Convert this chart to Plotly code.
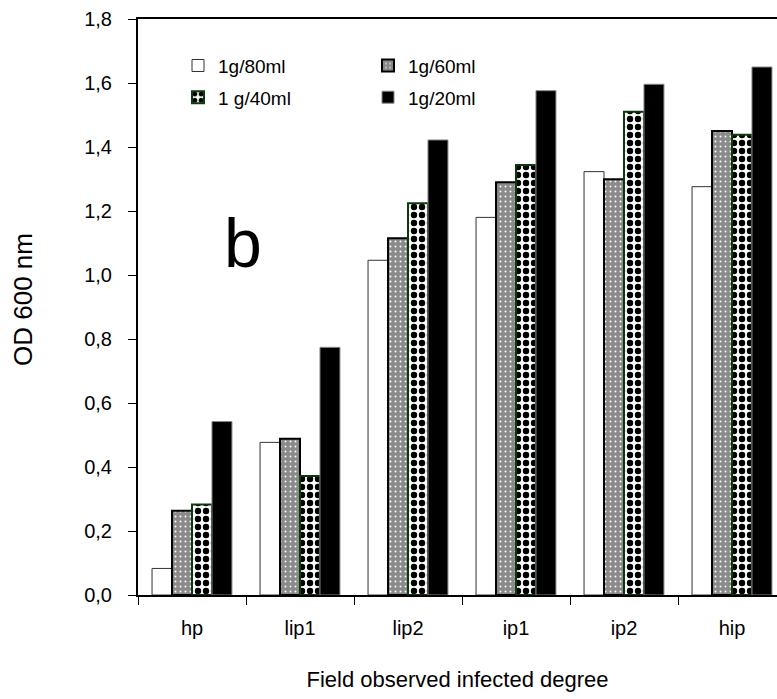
import plotly.graph_objects as go

# Infection-degree classes on the x axis
categories = ["hp", "lip1", "lip2", "ip1", "ip2", "hip"]

# OD 600 nm readings for each soil:water ratio
od_80ml = [0.083, 0.477, 1.046, 1.180, 1.323, 1.276]
od_60ml = [0.263, 0.488, 1.115, 1.290, 1.299, 1.450]
od_40ml = [0.283, 0.372, 1.224, 1.344, 1.510, 1.438]
od_20ml = [0.542, 0.774, 1.422, 1.576, 1.596, 1.650]

y_ticks = [0.0, 0.2, 0.4, 0.6, 0.8, 1.0, 1.2, 1.4, 1.6, 1.8]

FONT = "Arial, 'Liberation Sans', sans-serif"

fig = go.Figure()

fig.add_trace(go.Bar(
    x=categories, y=od_80ml, name="1g/80ml", legend="legend",
    legendgroup="a",
    marker=dict(color="white", line=dict(color="#333333", width=1)),
))
fig.add_trace(go.Bar(
    x=categories, y=od_60ml, name="1g/60ml", legend="legend2",
    legendgroup="b",
    marker=dict(
        color="#8f8f8f",
        line=dict(color="black", width=2),
        pattern=dict(shape=".", bgcolor="#8a8a8a", fgcolor="#ffffff",
                     size=5, solidity=0.12, fillmode="replace"),
    ),
))
fig.add_trace(go.Bar(
    x=categories, y=od_40ml, name="1 g/40ml", legend="legend",
    legendgroup="c",
    marker=dict(
        color="white",
        line=dict(color="#0b3a0b", width=2),
        pattern=dict(shape=".", bgcolor="white", fgcolor="black",
                     size=8, solidity=0.5, fillmode="replace"),
    ),
))
fig.add_trace(go.Bar(
    x=categories, y=od_20ml, name="1g/20ml", legend="legend2",
    legendgroup="d",
    marker=dict(color="black", line=dict(color="#888888", width=1)),
))

plot_left, plot_top, plot_bottom = 138, 19, 595
W, H = 777, 699
plot_w = W - plot_left
plot_h = plot_bottom - plot_top
cat_px = 108.0
x_range = [-0.5, -0.5 + plot_w / cat_px]
boundaries = [i - 0.5 for i in range(len(categories) + 1)]

legend_common = dict(
    xanchor="left", yanchor="top",
    bgcolor="rgba(0,0,0,0)",
    font=dict(family=FONT, size=19, color="black"),
    orientation="v", tracegroupgap=4, itemwidth=30,
)

fig.update_layout(
    width=W, height=H,
    margin=dict(l=plot_left, r=0, t=plot_top, b=H - plot_bottom),
    paper_bgcolor="white", plot_bgcolor="white",
    separators=", ",
    barmode="group", bargap=0.26, bargroupgap=0.0,
    font=dict(family=FONT, color="black"),
    legend=dict(x=(178 - plot_left) / plot_w, y=0.952, **legend_common),
    legend2=dict(x=(368 - plot_left) / plot_w, y=0.952, **legend_common),
    xaxis=dict(
        range=x_range,
        showline=True, linecolor="black", linewidth=2, mirror=True,
        ticks="outside", ticklen=8, tickwidth=1, tickcolor="black",
        tickson="boundaries",
        tickfont=dict(family=FONT, size=20),
        ticklabelstandoff=14,
        showgrid=False, zeroline=False,
        title=dict(text="Field observed infected degree",
                   font=dict(family=FONT, size=22), standoff=34),
    ),
    # inner half of the tick marks, so they cross the axis lines
    xaxis2=dict(
        overlaying="x", anchor="y", side="bottom",
        range=x_range, tickvals=boundaries,
        ticks="inside", ticklen=8, tickwidth=1, tickcolor="black",
        showticklabels=False, showline=False, showgrid=False, zeroline=False,
    ),
    yaxis=dict(
        range=[0, 1.8],
        tickvals=y_ticks, tickformat=".1f",
        showline=True, linecolor="black", linewidth=2,
        ticks="outside", ticklen=8, tickwidth=1, tickcolor="black",
        tickfont=dict(family=FONT, size=20),
        ticklabelstandoff=12,
        showgrid=False, zeroline=False,
    ),
    yaxis2=dict(
        overlaying="y", anchor="x", side="left",
        range=[0, 1.8], tickvals=y_ticks,
        ticks="inside", ticklen=8, tickwidth=1, tickcolor="black",
        showticklabels=False, showline=False, showgrid=False, zeroline=False,
    ),
    annotations=[
        dict(
            text="b", xref="paper", yref="paper",
            x=(222 - plot_left) / plot_w, y=(plot_bottom - 243) / plot_h,
            showarrow=False, font=dict(family=FONT, size=68, color="black"),
        ),
        dict(
            text="OD 600 nm", xref="paper", yref="paper", textangle=-90,
            x=(23 - plot_left) / plot_w, y=(plot_bottom - 300) / plot_h,
            xanchor="center", yanchor="middle",
            showarrow=False, font=dict(family=FONT, size=26, color="black"),
        ),
    ],
)

fig.write_html("out.html")
